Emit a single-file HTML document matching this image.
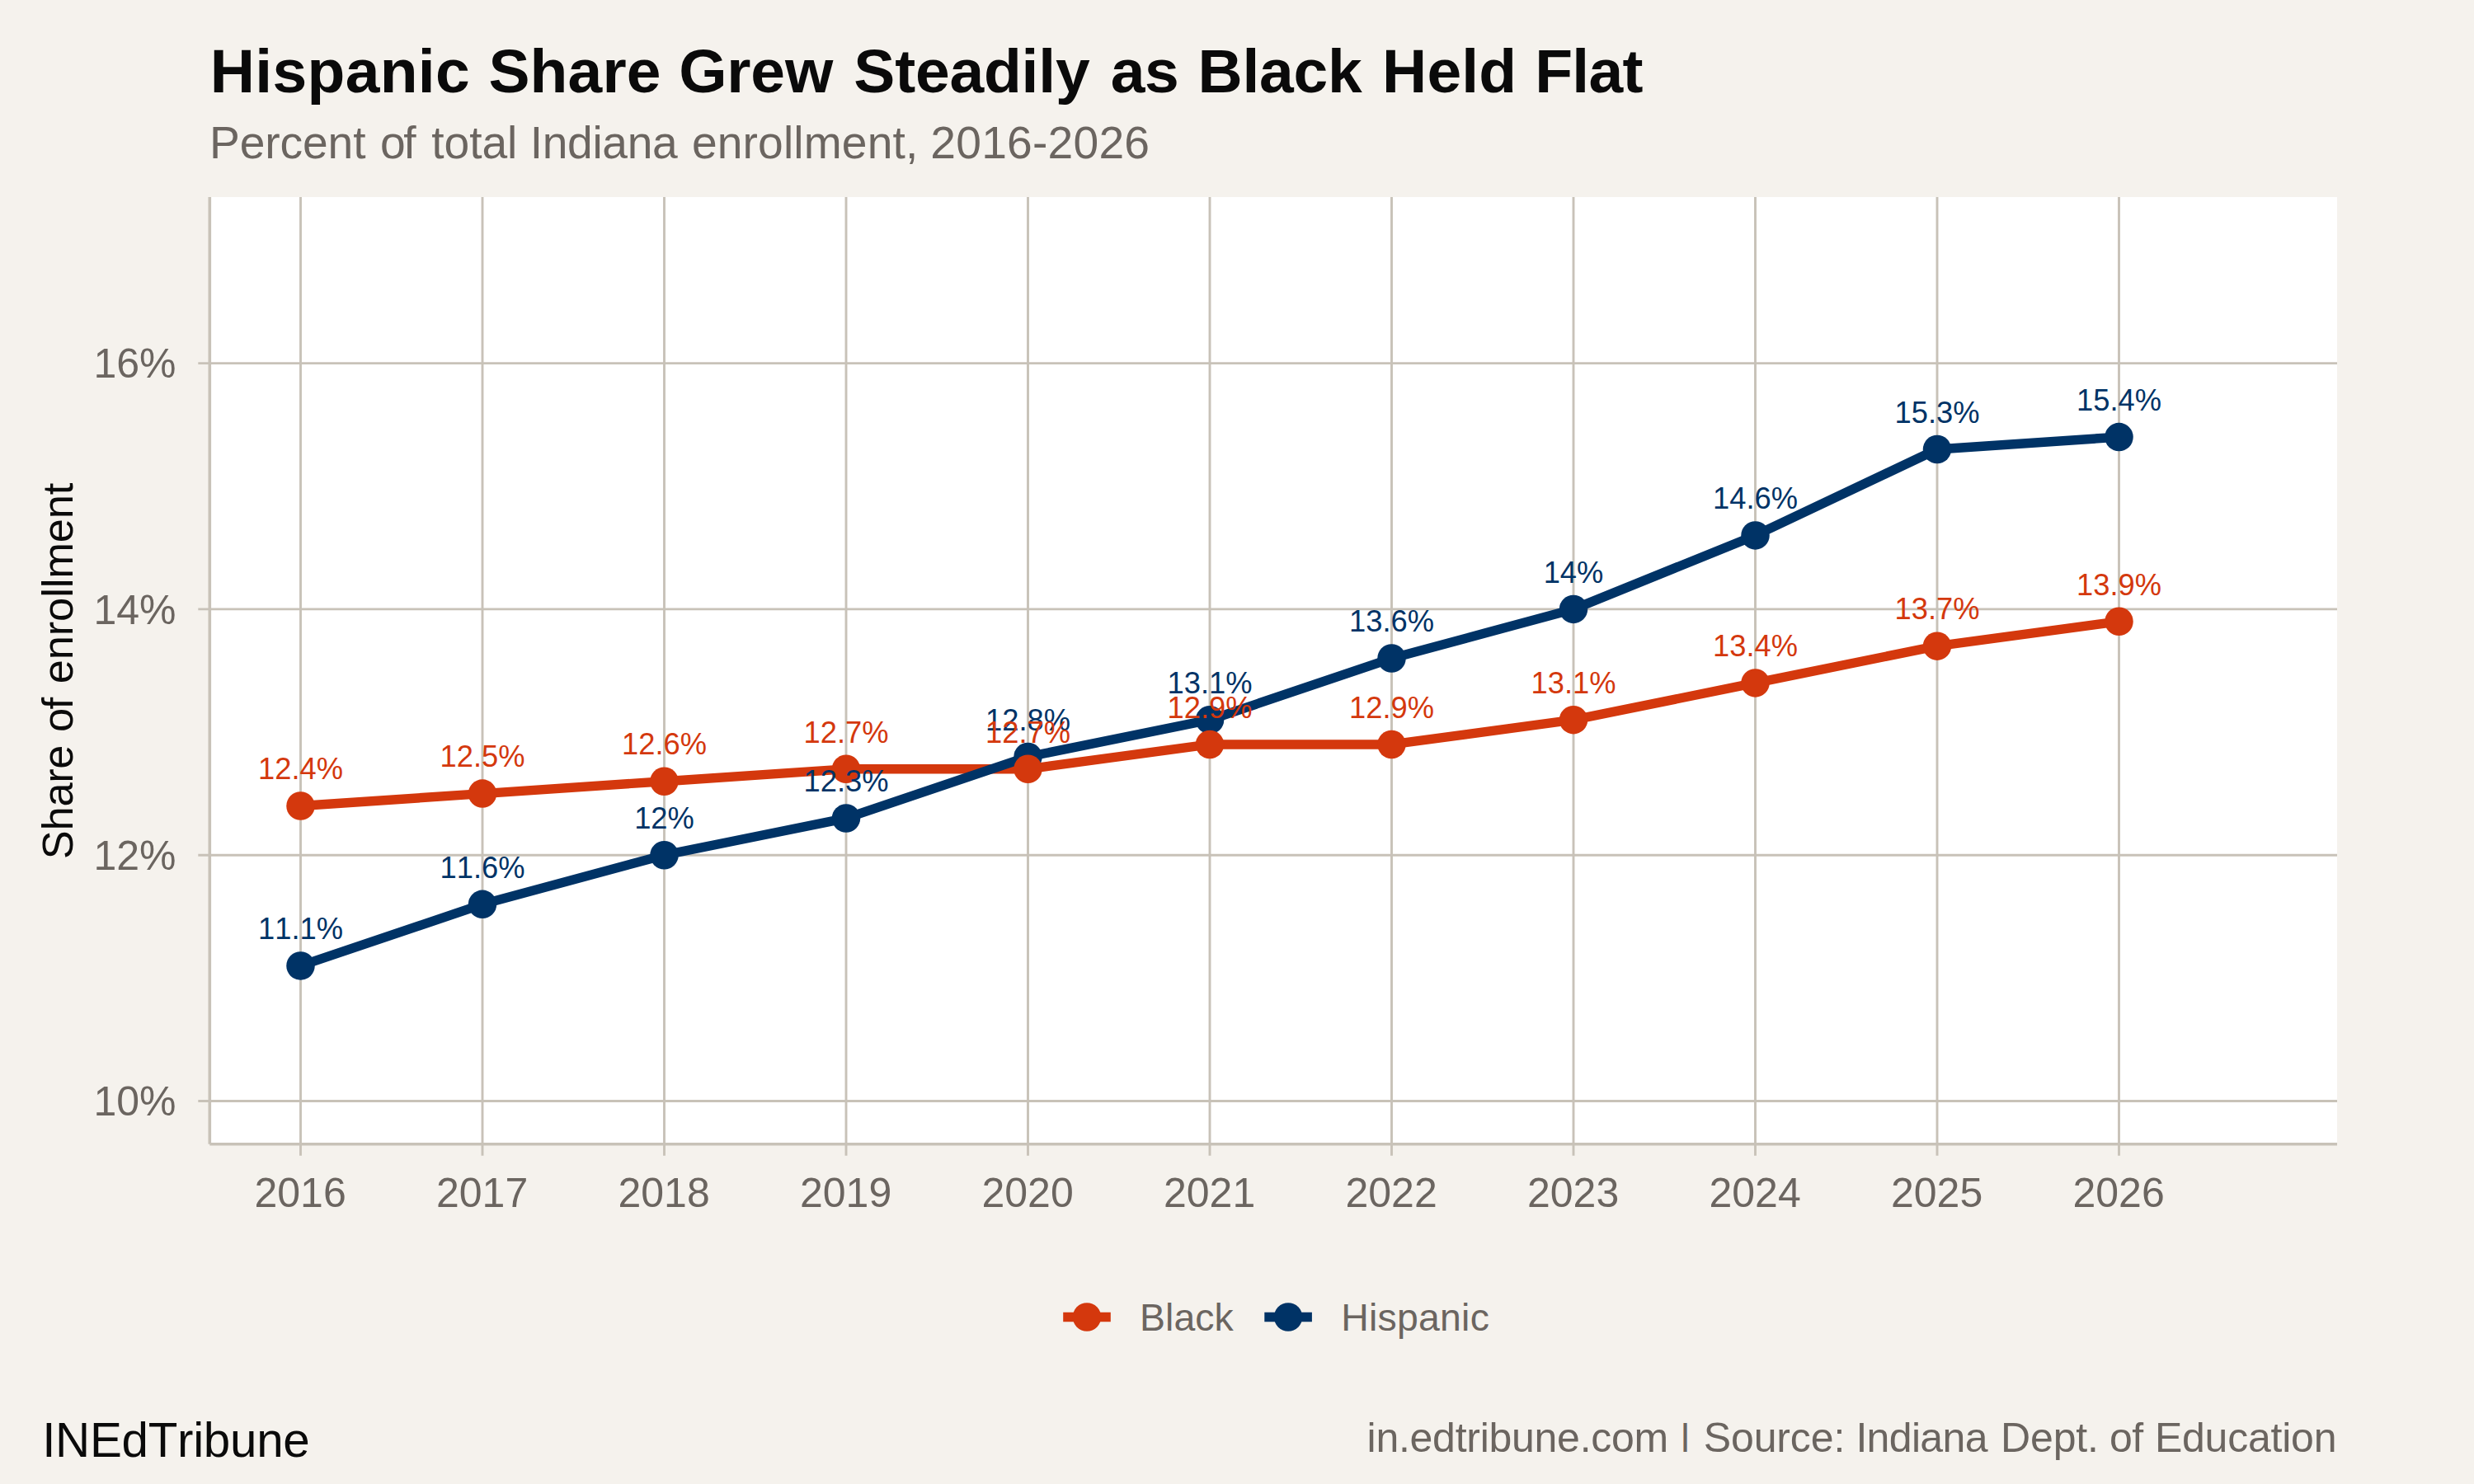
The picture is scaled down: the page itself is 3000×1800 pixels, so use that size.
<!DOCTYPE html>
<html lang="en">
<head>
<meta charset="utf-8">
<title>Hispanic Share Grew Steadily as Black Held Flat</title>
<style>
html,body{margin:0;padding:0;background:#F5F2ED;}
body{width:3000px;height:1800px;overflow:hidden;}
svg{display:block;}
text{font-family:"Liberation Sans",Arial,Helvetica,sans-serif;font-kerning:none;}
</style>
</head>
<body>
<svg width="3000" height="1800" viewBox="0 0 3000 1800">
<rect x="0" y="0" width="3000" height="1800" fill="#F5F2ED"/>
<rect x="254.3" y="239.0" width="2579.7" height="1148.8" fill="#FFFFFF"/>
<g stroke="#C8C2B8" stroke-width="2.90" fill="none">
<line x1="240.3" y1="1335.50" x2="2834.0" y2="1335.50"/>
<line x1="240.3" y1="1037.20" x2="2834.0" y2="1037.20"/>
<line x1="240.3" y1="738.90" x2="2834.0" y2="738.90"/>
<line x1="240.3" y1="440.60" x2="2834.0" y2="440.60"/>
<line x1="364.50" y1="239.0" x2="364.50" y2="1401.8"/>
<line x1="585.00" y1="239.0" x2="585.00" y2="1401.8"/>
<line x1="805.50" y1="239.0" x2="805.50" y2="1401.8"/>
<line x1="1026.00" y1="239.0" x2="1026.00" y2="1401.8"/>
<line x1="1246.50" y1="239.0" x2="1246.50" y2="1401.8"/>
<line x1="1467.00" y1="239.0" x2="1467.00" y2="1401.8"/>
<line x1="1687.50" y1="239.0" x2="1687.50" y2="1401.8"/>
<line x1="1908.00" y1="239.0" x2="1908.00" y2="1401.8"/>
<line x1="2128.50" y1="239.0" x2="2128.50" y2="1401.8"/>
<line x1="2349.00" y1="239.0" x2="2349.00" y2="1401.8"/>
<line x1="2569.50" y1="239.0" x2="2569.50" y2="1401.8"/>
</g>
<g stroke="#C8C2B8" stroke-width="3.60" fill="none">
<line x1="254.30" y1="239.0" x2="254.30" y2="1387.8"/>
<line x1="254.3" y1="1387.80" x2="2834.0" y2="1387.80"/>
</g>
<polyline points="364.50,977.54 585.00,962.62 805.50,947.71 1026.00,932.80 1246.50,932.80 1467.00,902.96 1687.50,902.96 1908.00,873.13 2128.50,828.39 2349.00,783.65 2569.50,753.81" fill="none" stroke="#D4380D" stroke-width="11.40" stroke-linejoin="round" stroke-linecap="butt"/>
<polyline points="364.50,1171.43 585.00,1096.86 805.50,1037.20 1026.00,992.45 1246.50,917.88 1467.00,873.13 1687.50,798.56 1908.00,738.90 2128.50,649.41 2349.00,545.00 2569.50,530.09" fill="none" stroke="#003366" stroke-width="11.40" stroke-linejoin="round" stroke-linecap="butt"/>
<g fill="#003366">
<circle cx="364.50" cy="1171.43" r="17.25"/>
<circle cx="585.00" cy="1096.86" r="17.25"/>
<circle cx="805.50" cy="1037.20" r="17.25"/>
<circle cx="1026.00" cy="992.45" r="17.25"/>
<circle cx="1246.50" cy="917.88" r="17.25"/>
<circle cx="1467.00" cy="873.13" r="17.25"/>
<circle cx="1687.50" cy="798.56" r="17.25"/>
<circle cx="1908.00" cy="738.90" r="17.25"/>
<circle cx="2128.50" cy="649.41" r="17.25"/>
<circle cx="2349.00" cy="545.00" r="17.25"/>
<circle cx="2569.50" cy="530.09" r="17.25"/>
</g>
<g fill="#D4380D">
<circle cx="364.50" cy="977.54" r="17.25"/>
<circle cx="585.00" cy="962.62" r="17.25"/>
<circle cx="805.50" cy="947.71" r="17.25"/>
<circle cx="1026.00" cy="932.80" r="17.25"/>
<circle cx="1246.50" cy="932.80" r="17.25"/>
<circle cx="1467.00" cy="902.96" r="17.25"/>
<circle cx="1687.50" cy="902.96" r="17.25"/>
<circle cx="1908.00" cy="873.13" r="17.25"/>
<circle cx="2128.50" cy="828.39" r="17.25"/>
<circle cx="2349.00" cy="783.65" r="17.25"/>
<circle cx="2569.50" cy="753.81" r="17.25"/>
</g>
<g fill="#003366" font-size="36.30" text-anchor="middle">
<text x="364.50" y="1139.13">11.1%</text>
<text x="585.00" y="1064.56">11.6%</text>
<text x="805.50" y="1004.90">12%</text>
<text x="1026.00" y="960.15">12.3%</text>
<text x="1246.50" y="885.58">12.8%</text>
<text x="1467.00" y="840.84">13.1%</text>
<text x="1687.50" y="766.26">13.6%</text>
<text x="1908.00" y="706.60">14%</text>
<text x="2128.50" y="617.11">14.6%</text>
<text x="2349.00" y="512.70">15.3%</text>
<text x="2569.50" y="497.79">15.4%</text>
</g>
<g fill="#D4380D" font-size="36.30" text-anchor="middle">
<text x="364.50" y="945.24">12.4%</text>
<text x="585.00" y="930.33">12.5%</text>
<text x="805.50" y="915.41">12.6%</text>
<text x="1026.00" y="900.50">12.7%</text>
<text x="1246.50" y="900.50">12.7%</text>
<text x="1467.00" y="870.66">12.9%</text>
<text x="1687.50" y="870.66">12.9%</text>
<text x="1908.00" y="840.84">13.1%</text>
<text x="2128.50" y="796.09">13.4%</text>
<text x="2349.00" y="751.35">13.7%</text>
<text x="2569.50" y="721.51">13.9%</text>
</g>
<g fill="#6B6560" font-size="50" text-anchor="end">
<text x="213.5" y="1353.20">10%</text>
<text x="213.5" y="1054.90">12%</text>
<text x="213.5" y="756.60">14%</text>
<text x="213.5" y="458.30">16%</text>
</g>
<g fill="#6B6560" font-size="50" text-anchor="middle">
<text x="364.10" y="1463.5">2016</text>
<text x="584.60" y="1463.5">2017</text>
<text x="805.10" y="1463.5">2018</text>
<text x="1025.60" y="1463.5">2019</text>
<text x="1246.10" y="1463.5">2020</text>
<text x="1466.60" y="1463.5">2021</text>
<text x="1687.10" y="1463.5">2022</text>
<text x="1907.60" y="1463.5">2023</text>
<text x="2128.10" y="1463.5">2024</text>
<text x="2348.60" y="1463.5">2025</text>
<text x="2569.10" y="1463.5">2026</text>
</g>
<text y="0.00" font-size="52.50" fill="#0A0A0A" transform="translate(88.05,0) rotate(-90) scale(1.0000,1)"><tspan x="-1042.14" letter-spacing="-0.356">Share </tspan><tspan x="-888.04" letter-spacing="-1.623">of </tspan><tspan x="-829.34" letter-spacing="-0.151">enrollment</tspan></text>
<text y="111.90" font-size="75.00" font-weight="bold" fill="#0A0A0A"><tspan x="254.71" letter-spacing="0.351">Hispanic </tspan><tspan x="592.43" letter-spacing="0.173">Share </tspan><tspan x="823.16" letter-spacing="-0.162">Grew </tspan><tspan x="1035.33" letter-spacing="-0.189">Steadily </tspan><tspan x="1346.83" letter-spacing="-0.611">as </tspan><tspan x="1452.51" letter-spacing="-0.256">Black </tspan><tspan x="1676.11" letter-spacing="0.153">Held </tspan><tspan x="1861.21" letter-spacing="-0.661">Flat</tspan></text>
<text y="191.95" font-size="55.20" fill="#6B6560"><tspan x="254.09" letter-spacing="-0.135">Percent </tspan><tspan x="460.88" letter-spacing="-2.300">of </tspan><tspan x="523.30" letter-spacing="-0.074">total </tspan><tspan x="642.69" letter-spacing="-0.323">Indiana </tspan><tspan x="838.88" letter-spacing="0.149">enrollment, </tspan><tspan x="1128.31" letter-spacing="0.231">2016-2026</tspan></text>
<line x1="1289.2" y1="1597.5" x2="1346.8" y2="1597.5" stroke="#D4380D" stroke-width="11.40"/>
<circle cx="1318.0" cy="1597.5" r="17.25" fill="#D4380D"/>
<text y="1613.95" font-size="46.40" fill="#6B6560"><tspan x="1381.97" letter-spacing="0.084">Black</tspan></text>
<line x1="1533.3" y1="1597.5" x2="1590.9" y2="1597.5" stroke="#003366" stroke-width="11.40"/>
<circle cx="1562.1" cy="1597.5" r="17.25" fill="#003366"/>
<text y="1613.95" font-size="46.40" fill="#6B6560"><tspan x="1626.17" letter-spacing="0.258">Hispanic</tspan></text>
<text y="1766.90" font-size="58.33" fill="#0A0A0A"><tspan x="51.14" letter-spacing="-0.283">INEdTribune</tspan></text>
<text y="1760.90" font-size="50.00" fill="#6B6560"><tspan x="1657.58" letter-spacing="-0.269">in.edtribune.com</tspan></text>
<text y="0.00" font-size="50.00" fill="#6B6560" transform="translate(0,1753.00) scale(1,0.7407)"><tspan x="2036.99">|</tspan></text>
<text y="1760.90" font-size="50.00" fill="#6B6560"><tspan x="2065.74" letter-spacing="-0.123">Source: </tspan><tspan x="2250.39" letter-spacing="-0.658">Indiana </tspan><tspan x="2426.09" letter-spacing="-0.171">Dept. </tspan><tspan x="2557.94" letter-spacing="-0.608">of </tspan><tspan x="2612.89" letter-spacing="-0.222">Education</tspan></text>
</svg>
</body>
</html>
